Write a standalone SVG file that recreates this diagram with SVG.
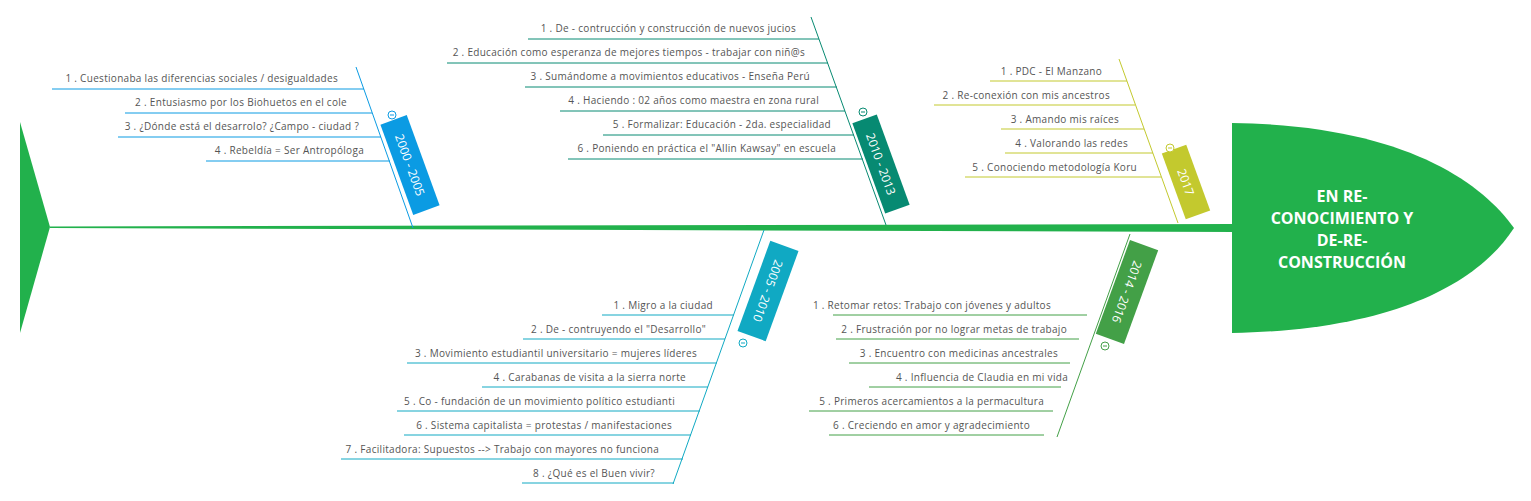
<svg xmlns="http://www.w3.org/2000/svg" width="1531" height="501" viewBox="0 0 1531 501">
<style>
.t{font-family:"Open Sans","DejaVu Sans",sans-serif;font-size:10px;fill:#555;text-anchor:end;letter-spacing:0.3px}
.b{font-family:"Open Sans","DejaVu Sans",sans-serif;font-size:12px;fill:#fff;text-anchor:middle;dominant-baseline:central}
.h{font-family:"Open Sans","DejaVu Sans",sans-serif;font-size:16px;font-weight:bold;fill:#fff;text-anchor:middle}
.c{fill:#fff;stroke-width:1}
</style>
<rect width="1531" height="501" fill="#fff"/>
<g id="fish">
<polygon points="20,122 50,227 20,333" fill="#22b14c"/>
<polygon points="50,226.5 1235,224 1235,232 50,228" fill="#22b14c"/>
<path d="M1232,123 C1400,125 1480,180 1514,228 C1480,280 1400,330 1232,333 Z" fill="#22b14c"/>
<text class="h" x="1342" y="202">EN RE-</text>
<text class="h" x="1342" y="224">CONOCIMIENTO Y</text>
<text class="h" x="1342" y="246">DE-RE-</text>
<text class="h" x="1342" y="268">CONSTRUCCIÓN</text>
</g>
<g id="connectors" fill="none" stroke-width="1">
<g stroke="#0b9be3">
<line x1="356" y1="67" x2="413" y2="228"/>
<line x1="52" y1="89" x2="364" y2="89"/><line x1="125" y1="113" x2="372" y2="113"/><line x1="118" y1="137" x2="381" y2="137"/><line x1="206" y1="161" x2="390" y2="161"/>
</g>
<g stroke="#078a72">
<line x1="811" y1="17" x2="886" y2="225"/>
<line x1="528" y1="39" x2="819" y2="39"/><line x1="447" y1="63" x2="828" y2="63"/><line x1="525" y1="87" x2="837" y2="87"/><line x1="560" y1="111" x2="845" y2="111"/><line x1="603" y1="135" x2="854" y2="135"/><line x1="568" y1="159" x2="863" y2="159"/>
</g>
<g stroke="#c3c92e">
<line x1="1119" y1="59" x2="1178" y2="223"/>
<line x1="990" y1="81" x2="1127" y2="81"/><line x1="934" y1="105" x2="1135" y2="105"/><line x1="1001" y1="129" x2="1144" y2="129"/><line x1="1005" y1="153" x2="1153" y2="153"/><line x1="965" y1="177" x2="1161" y2="177"/>
</g>
<g stroke="#10a9c3">
<line x1="764" y1="230" x2="673" y2="484"/>
<line x1="602" y1="315" x2="734" y2="315"/><line x1="523" y1="339" x2="725" y2="339"/><line x1="407" y1="363" x2="717" y2="363"/><line x1="482" y1="387" x2="708" y2="387"/><line x1="397" y1="411" x2="700" y2="411"/><line x1="404" y1="435" x2="691" y2="435"/><line x1="341" y1="459" x2="683" y2="459"/><line x1="522" y1="483" x2="674" y2="483"/>
</g>
<g stroke="#43a047">
<line x1="1130" y1="234" x2="1057" y2="437"/>
<line x1="833" y1="315" x2="1087" y2="315"/><line x1="836" y1="339" x2="1079" y2="339"/><line x1="849" y1="363" x2="1070" y2="363"/><line x1="869" y1="387" x2="1061" y2="387"/><line x1="809" y1="411" x2="1053" y2="411"/><line x1="829" y1="435" x2="1044" y2="435"/>
</g>
</g>
<g id="b2000">
<g transform="translate(410,165) rotate(70)"><rect x="-48" y="-14" width="96" height="28" fill="#0b9be3"/><text class="b">2000 - 2005</text></g>
<circle class="c" cx="392" cy="115" r="4" stroke="#0b9be3"/><line x1="390" y1="115" x2="394" y2="115" stroke="#0b9be3"/>
<text class="t" x="338" y="82">1 .  Cuestionaba las diferencias sociales  / desigualdades</text>
<text class="t" x="347" y="106">2 .  Entusiasmo por los Biohuetos en el cole</text>
<text class="t" x="359" y="130">3 .  ¿Dónde está el desarrolo? ¿Campo - ciudad ?</text>
<text class="t" x="364" y="154">4 .  Rebeldía = Ser Antropóloga</text>
</g>
<g id="b2010">
<g transform="translate(881,164) rotate(70)"><rect x="-48" y="-13" width="96" height="26" fill="#078a72"/><text class="b">2010 - 2013</text></g>
<circle class="c" cx="863" cy="112" r="4" stroke="#078a72"/><line x1="861" y1="112" x2="865" y2="112" stroke="#078a72"/>
<text class="t" x="796" y="32">1 .  De - contrucción  y  construcción de nuevos jucios</text>
<text class="t" x="805" y="56">2 .  Educación como esperanza de mejores tiempos - trabajar con niñ@s</text>
<text class="t" x="810" y="80">3 .  Sumándome a movimientos educativos - Enseña Perú</text>
<text class="t" x="819" y="104">4 .  Haciendo : 02 años como maestra en zona rural</text>
<text class="t" x="831" y="128">5 .  Formalizar: Educación - 2da. especialidad</text>
<text class="t" x="836" y="152">6 .  Poniendo en práctica el "Allin Kawsay" en escuela</text>
</g>
<g id="b2017">
<g transform="translate(1186,182) rotate(70)"><rect x="-35" y="-13" width="70" height="26" fill="#c3c92e"/><text class="b">2017</text></g>
<circle class="c" cx="1170" cy="148" r="4" stroke="#c3c92e"/><line x1="1168" y1="148" x2="1172" y2="148" stroke="#c3c92e"/>
<text class="t" x="1102" y="75">1 .  PDC - El Manzano</text>
<text class="t" x="1110" y="99">2 .  Re-conexión con mis ancestros</text>
<text class="t" x="1119" y="123">3 .  Amando mis raíces</text>
<text class="t" x="1128" y="147">4 .  Valorando las redes</text>
<text class="t" x="1137" y="171">5 .  Conociendo metodología Koru</text>
</g>
<g id="b2005">
<g transform="translate(768,291) rotate(110)"><rect x="-48" y="-15" width="96" height="30" fill="#10a9c3"/><text class="b">2005 - 2010</text></g>
<circle class="c" cx="743" cy="343" r="4" stroke="#10a9c3"/><line x1="741" y1="343" x2="745" y2="343" stroke="#10a9c3"/>
<text class="t" x="713" y="309">1 .  Migro a la ciudad</text>
<text class="t" x="706" y="333">2 .  De - contruyendo el "Desarrollo"</text>
<text class="t" x="697" y="357">3 .  Movimiento estudiantil universitario = mujeres líderes</text>
<text class="t" x="686" y="381">4 .  Carabanas de visita a la sierra norte</text>
<text class="t" x="675" y="405">5 .  Co - fundación de un movimiento político estudianti</text>
<text class="t" x="672" y="429">6 .  Sistema capitalista = protestas / manifestaciones</text>
<text class="t" x="659" y="453">7 .  Facilitadora: Supuestos --&gt; Trabajo con mayores no funciona</text>
<text class="t" x="655" y="477">8 .  ¿Qué es el Buen vivir?</text>
</g>
<g id="b2014">
<g transform="translate(1127,292) rotate(110)"><rect x="-50" y="-15" width="100" height="30" fill="#43a047"/><text class="b">2014 - 2016</text></g>
<circle class="c" cx="1105" cy="346" r="4" stroke="#43a047"/><line x1="1103" y1="346" x2="1107" y2="346" stroke="#43a047"/>
<text class="t" x="1051" y="309">1 .  Retomar retos: Trabajo con jóvenes y adultos</text>
<text class="t" x="1067" y="333">2 .  Frustración por no lograr metas de trabajo</text>
<text class="t" x="1058" y="357">3 .  Encuentro con medicinas ancestrales</text>
<text class="t" x="1068" y="381">4 .  Influencia de Claudia en mi vida</text>
<text class="t" x="1044" y="405">5 .  Primeros acercamientos a la permacultura</text>
<text class="t" x="1030" y="429">6 .  Creciendo en amor y agradecimiento</text>
</g>
</svg>
